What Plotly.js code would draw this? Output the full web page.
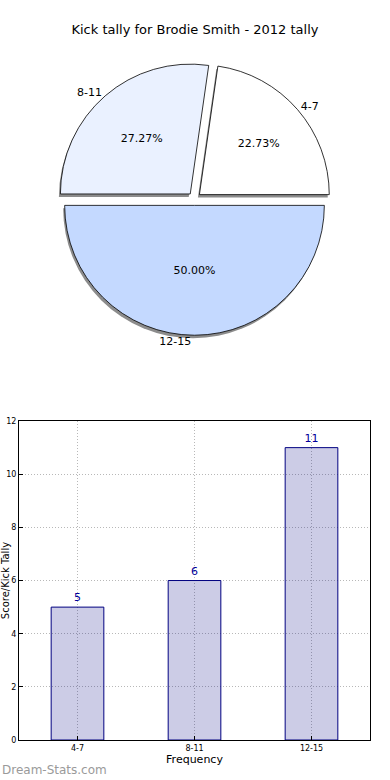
<!DOCTYPE html>
<html>
<head>
<meta charset="utf-8">
<script src="https://cdn.plot.ly/plotly-3.0.1.min.js"></script>
<style>html,body{margin:0;padding:0;background:#fff;}#chart{width:390px;height:780px;}</style>
</head>
<body>
<div id="chart"></div>
<script>
const categories = ["4-7", "8-11", "12-15"];
const tally = [5, 6, 11];
const sliceColors = ["#ffffff", "#eaf1ff", "#c4d9ff"];
const yTicks = [0, 2, 4, 6, 8, 10, 12];

const FONT = "DejaVu Sans, sans-serif";
const pull = [0.05, 0.05, 0.05];
const total = tally.reduce((a, b) => a + b, 0);
// first slice begins at 3 o'clock and runs counterclockwise
const ROT = 90 - 360 * tally[0] / total;
const pieDom = {x: [0, 1], y: [0.547, 0.9155]};
const dx = -3 / 351, dy = -3 / 740;

const shadow = {
  type: "pie", values: tally, labels: categories, sort: false,
  direction: "counterclockwise", rotation: ROT, pull: pull,
  domain: {x: [pieDom.x[0] + dx, pieDom.x[1] + dx], y: [pieDom.y[0] + dy, pieDom.y[1] + dy]},
  marker: {colors: ["#8c8c8c", "#8c8c8c", "#8c8c8c"], line: {width: 0}},
  textinfo: "none", hoverinfo: "skip", showlegend: false
};
const pie = {
  type: "pie", values: tally, labels: categories, sort: false,
  direction: "counterclockwise", rotation: ROT, pull: pull,
  domain: pieDom,
  marker: {colors: sliceColors, line: {color: "#000", width: 0.8}},
  texttemplate: "%{percent:.2%}", textposition: "inside", insidetextorientation: "horizontal",
  textfont: {family: FONT, size: 11, color: "#000"},
  showlegend: false
};
const pieLabels = {
  type: "pie", values: tally, labels: categories, sort: false,
  direction: "counterclockwise", rotation: ROT, pull: pull,
  domain: pieDom,
  marker: {colors: ["rgba(0,0,0,0)", "rgba(0,0,0,0)", "rgba(0,0,0,0)"], line: {width: 0}},
  textinfo: "label", textposition: "outside", automargin: false,
  outsidetextfont: {family: FONT, size: 11, color: "#000"},
  hoverinfo: "skip", showlegend: false
};
const bars = {
  type: "bar", x: categories, y: tally, width: 0.45,
  marker: {color: "rgba(0,0,128,0.2)", line: {color: "#000080", width: 1}},
  text: tally.map(String), textposition: "outside", cliponaxis: false,
  textfont: {family: FONT, size: 11, color: "#00009a"},
  xaxis: "x", yaxis: "y", showlegend: false
};

const layout = {
  width: 390, height: 780,
  margin: {l: 19, r: 20, t: 0, b: 40},
  paper_bgcolor: "#fff", plot_bgcolor: "#fff",
  font: {family: FONT, color: "#000"},
  title: {text: "Kick tally for Brodie Smith - 2012 tally", font: {family: FONT, size: 13, color: "#000"}, x: 0.5, xanchor: "center", y: 0.962, yanchor: "middle"},
  xaxis: {
    domain: [0, 1], range: [-0.5, 2.5], type: "category",
    showline: true, linecolor: "#000", linewidth: 1, mirror: true,
    ticks: "inside", ticklen: 4, tickcolor: "#000",
    tickfont: {family: FONT, size: 8, color: "#000"},
    showgrid: true, gridcolor: "#b8b8b8", griddash: "1px,2px", gridwidth: 1,
    title: {text: "Frequency", font: {family: FONT, size: 11, color: "#000"}, standoff: 2},
    automargin: false
  },
  yaxis: {
    domain: [0, 0.431], range: [0, 12], tickvals: yTicks,
    showline: true, linecolor: "#000", linewidth: 1, mirror: true,
    ticks: "inside", ticklen: 4, tickcolor: "#000",
    tickfont: {family: FONT, size: 8, color: "#000"},
    showgrid: true, gridcolor: "#b8b8b8", griddash: "1px,2px", gridwidth: 1,
    zeroline: false,
    title: {text: "Score/Kick Tally", font: {family: FONT, size: 10, color: "#000"}, standoff: 15},
    automargin: false
  },
  annotations: [{
    text: "Dream-Stats.com", xref: "paper", yref: "paper",
    x: -19 / 351, y: -30 / 740, xanchor: "left", yanchor: "middle",
    showarrow: false, font: {family: FONT, size: 12, color: "#9a9a9a"}
  }]
};

Plotly.newPlot("chart", [shadow, pie, pieLabels, bars], layout, {staticPlot: true, displayModeBar: false});
</script>
</body>
</html>
